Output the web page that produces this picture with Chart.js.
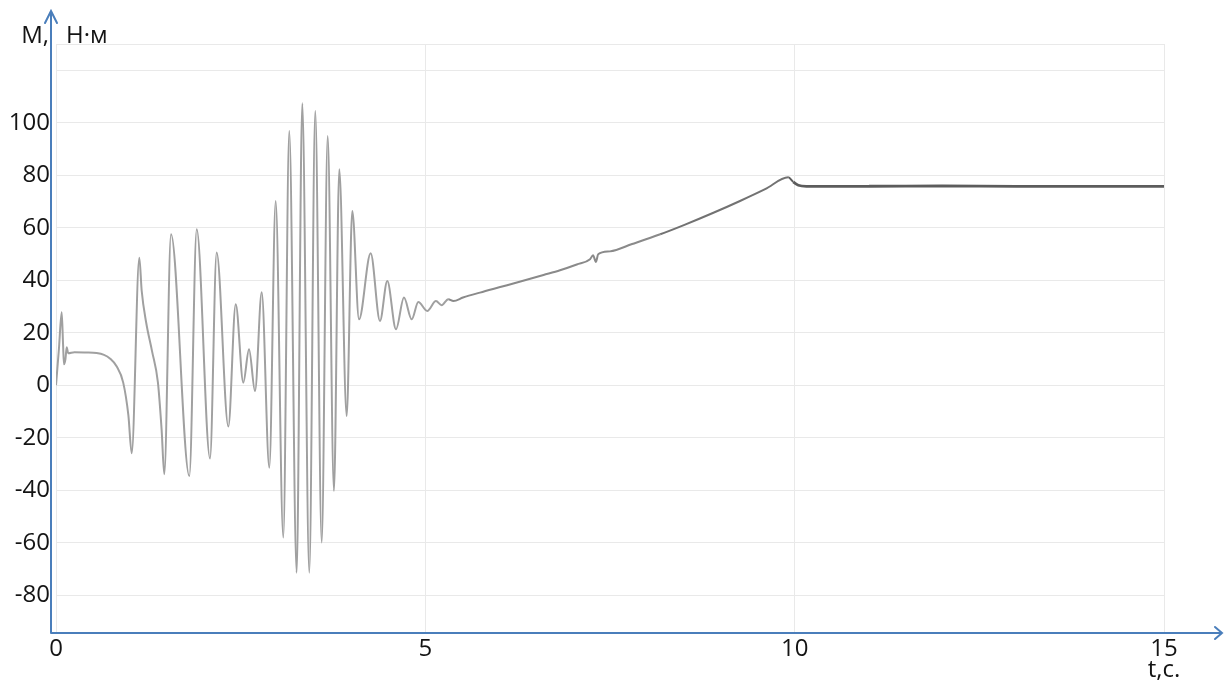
<!DOCTYPE html>
<html>
<head>
<meta charset="utf-8">
<script src="https://cdn.jsdelivr.net/npm/chart.js@4.4.1/dist/chart.umd.min.js"></script>
<style>
  html, body { margin: 0; padding: 0; background: #ffffff; }
  #wrap { width: 1224px; height: 681px; }
</style>
</head>
<body>
<div id="wrap"><canvas id="torque" width="1224" height="681"></canvas></div>
<script>
// Electromagnetic torque of the motor versus time
const timeS = [
  0, 0.04, 0.077, 0.095, 0.108, 0.128, 0.145, 0.165, 0.25, 0.4, 0.55, 0.65, 0.73, 0.82, 0.91, 0.98,
  1.025, 1.128, 1.16, 1.22, 1.30, 1.38, 1.43, 1.466, 1.557, 1.805, 1.905, 2.085, 2.175, 2.333,
  2.433, 2.536, 2.613, 2.694, 2.785, 2.888, 2.974, 3.077, 3.158, 3.258, 3.334, 3.429, 3.51, 3.597,
  3.678, 3.763, 3.835, 3.935, 4.011, 4.102, 4.26, 4.386, 4.485, 4.603, 4.711, 4.815, 4.905, 5.026,
  5.144, 5.221, 5.31, 5.38, 5.51, 5.74, 6.0, 6.3, 6.6, 6.823, 7.05, 7.23, 7.27, 7.31, 7.34, 7.5,
  7.8, 8.18, 8.5, 8.9, 9.26, 9.6, 9.913, 9.98, 10.05, 10.16, 11, 12, 13, 14, 15
];
const torqueNm = [
  0, 14, 27.8, 16, 8, 10, 14.5, 12.2, 12.6, 12.5, 12.3, 11.6, 10.2, 7.2, 1, -11.5,
  -25.9, 48.6, 36, 24, 13, 1, -17, -33.9, 57.5, -34.6, 59.4, -27.9, 50.6, -15.7,
  30.9, 1, 13.7, -2.2, 35.4, -31.4, 70.2, -58, 96.9, -71.4, 107.4, -71.4, 104.5, -59.9,
  95, -40.3, 82.3, -11.7, 66.4, 25.1, 50.3, 24.5, 39.7, 21.3, 33.4, 25.1, 31.7, 28.3,
  32.1, 30.5, 32.8, 32.1, 33.4, 35.3, 37.3, 39.6, 42, 43.8, 46, 48, 49.5, 47, 49.9, 51,
  53.8, 57.5, 61, 65.7, 70.2, 74.7, 79.2, 77.5, 76.2, 75.8, 75.8, 75.9, 75.8, 75.8, 75.8
];

const xTickValues = [0, 5, 10, 15];
const yGridValues = [-80, -60, -40, -20, 0, 20, 40, 60, 80, 100, 120, 130];
const yLabelledValues = [-80, -60, -40, -20, 0, 20, 40, 60, 80, 100];
const yAxisTitle = ['М,', 'Н·м'];
const xAxisTitle = 't,c.';

const FONT = '"Open Sans", "DejaVu Sans", sans-serif';
const TEXT = '#141414';
const AXIS_BLUE = '#4a7ebb';
const GRID = '#e9e9e9';

const points = timeS.map((t, i) => ({ x: t, y: torqueNm[i] }));

// Blue axis lines with arrowheads and the axis captions
const arrowAxes = {
  id: 'arrowAxes',
  afterDraw(chart) {
    const { ctx, chartArea } = chart;
    const ax = chartArea.left - 5;
    const ay = chartArea.bottom + 1;
    const xEnd = chart.width - 2;
    const yEnd = 11;
    ctx.save();
    ctx.strokeStyle = AXIS_BLUE;
    ctx.lineWidth = 2;
    ctx.lineCap = 'round';
    ctx.beginPath();
    ctx.moveTo(ax, ay);
    ctx.lineTo(xEnd, ay);
    ctx.moveTo(xEnd - 7, ay - 6);
    ctx.lineTo(xEnd, ay);
    ctx.lineTo(xEnd - 7, ay + 6);
    ctx.moveTo(ax, ay);
    ctx.lineTo(ax, yEnd);
    ctx.moveTo(ax - 6, yEnd + 12);
    ctx.lineTo(ax, yEnd);
    ctx.lineTo(ax + 6, yEnd + 12);
    ctx.stroke();

    ctx.fillStyle = TEXT;
    ctx.font = '24px ' + FONT;
    ctx.textBaseline = 'alphabetic';
    ctx.textAlign = 'right';
    ctx.fillText(yAxisTitle[0], ax - 2, 43);
    ctx.textAlign = 'left';
    ctx.fillText(yAxisTitle[1], ax + 15, 43);
    ctx.textAlign = 'center';
    const xs = chart.scales.x;
    ctx.fillText(xAxisTitle, xs.getPixelForValue(15), 677);
    ctx.restore();
  }
};

const segColor = x => x >= 9.9 ? '#5c5c5c' : (x >= 8 ? '#727272' : (x >= 5.3 ? '#8a8a8a' : '#a0a0a0'));

new Chart(document.getElementById('torque'), {
  type: 'line',
  data: {
    datasets: [{
      data: points,
      borderColor: '#a0a0a0',
      borderWidth: 1.9,
      pointRadius: 0,
      fill: false,
      tension: 0.4,
      cubicInterpolationMode: 'monotone',
      segment: {
        borderColor: c => segColor(c.p0.parsed.x),
        borderWidth: c => c.p0.parsed.x >= 9.95 ? 2.8 : 2
      }
    }]
  },
  options: {
    responsive: false,
    animation: false,
    devicePixelRatio: 1,
    layout: { padding: { left: 0, top: 44, right: 60, bottom: 0 } },
    plugins: { legend: { display: false }, tooltip: { enabled: false } },
    scales: {
      x: {
        type: 'linear',
        min: 0,
        max: 15,
        afterBuildTicks: s => { s.ticks = xTickValues.map(v => ({ value: v })); },
        afterFit: s => { s.height = 49; },
        grid: { color: GRID, lineWidth: 1, drawTicks: false },
        border: { display: false },
        ticks: { color: TEXT, font: { family: FONT, size: 24 }, padding: 3, maxRotation: 0 }
      },
      y: {
        type: 'linear',
        min: -94,
        max: 130,
        afterBuildTicks: s => { s.ticks = yGridValues.map(v => ({ value: v })); },
        afterFit: s => { s.width = 56; },
        grid: { color: GRID, lineWidth: 1, drawTicks: false },
        border: { display: false },
        ticks: {
          color: TEXT,
          font: { family: FONT, size: 24 },
          padding: 6,
          callback: v => yLabelledValues.includes(v) ? String(v) : ''
        }
      }
    }
  },
  plugins: [arrowAxes]
});
</script>
</body>
</html>
